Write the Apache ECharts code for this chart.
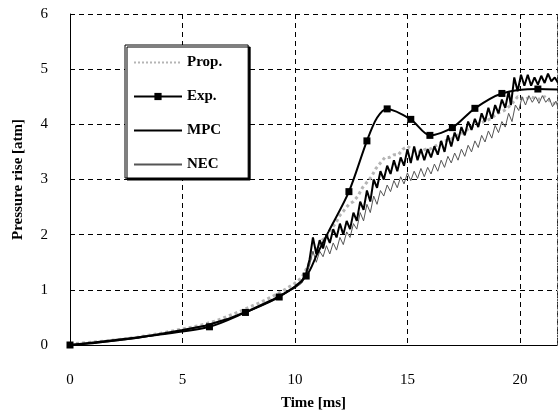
<!DOCTYPE html>
<html>
<head>
<meta charset="utf-8">
<script src="https://cdn.jsdelivr.net/npm/echarts@6/dist/echarts.min.js"></script>
<style>html,body{margin:0;padding:0;background:#fff}#c{width:560px;height:420px}</style>
</head>
<body>
<div id="c"></div>
<script>
var xTicks = [0, 5, 10, 15, 20];
var yTicks = [0, 1, 2, 3, 4, 5, 6];

var expMarked = [[0,0],[6.2,0.33],[7.8,0.59],[9.3,0.87],[10.5,1.25],[12.4,2.78],[13.2,3.70],[14.1,4.28],[15.15,4.09],[16.0,3.80],[17.0,3.94],[18.0,4.29],[19.2,4.56],[20.8,4.64]];
var expPlain = [[2,0.09],[4,0.19],[11.0,1.66],[11.5,2.06],[13.65,4.12],[21.7,4.63]];

var propData = [[0,0.02],[1,0.05],[2,0.09],[3,0.14],[4,0.21],[5,0.29],[5.5,0.33],[6,0.38],[6.5,0.44],[7,0.52],[7.5,0.6],[8,0.69],[8.5,0.78],[9,0.88],[9.5,0.99],[10,1.12],[10.3,1.22],[10.6,1.45],[10.8,1.7],[11,1.75],[11.2,1.9],[11.4,1.95],[11.6,2.1],[11.8,2.2],[12,2.35],[12.2,2.45],[12.4,2.55],[12.6,2.6],[12.8,2.7],[13,2.85],[13.2,2.95],[13.4,3.05],[13.6,3.2],[13.8,3.3],[14,3.4],[14.2,3.4],[14.4,3.45],[14.6,3.45],[14.8,3.55],[15,3.6],[15.2,3.55],[15.4,3.5],[15.6,3.5],[15.8,3.55],[16,3.55],[16.3,3.62],[16.6,3.7],[16.9,3.72],[17.2,3.8],[17.5,3.85],[17.8,3.95],[18.1,4.0],[18.4,4.05],[18.7,4.1],[19,4.2],[19.3,4.25],[19.6,4.35],[19.9,4.5],[20.2,4.45],[20.5,4.5],[20.8,4.45],[21.1,4.5],[21.4,4.4],[21.7,4.35]];

var mpcData = [[0,0],[1,0.03],[2,0.08],[3,0.13],[4,0.2],[5,0.27],[6,0.35],[7,0.47],[8,0.63],[9,0.82],[9.5,0.93],[10,1.05],[10.3,1.15],[10.5,1.3],[10.65,1.55],[10.8,1.95],[10.95,1.65],[11.1,1.9],[11.25,1.75],[11.4,2.0],[11.55,1.85],[11.7,2.1],[11.85,1.95],[12.0,2.2],[12.15,2.0],[12.3,2.25],[12.45,2.1],[12.6,2.4],[12.75,2.25],[12.9,2.6],[13.05,2.45],[13.2,2.8],[13.35,2.6],[13.5,3.0],[13.65,2.85],[13.8,3.15],[13.95,3.0],[14.1,3.25],[14.25,3.1],[14.4,3.35],[14.55,3.15],[14.7,3.4],[14.85,3.25],[15.0,3.55],[15.15,3.3],[15.3,3.6],[15.45,3.35],[15.6,3.55],[15.75,3.35],[15.9,3.55],[16.05,3.4],[16.2,3.6],[16.35,3.45],[16.5,3.7],[16.65,3.5],[16.8,3.8],[16.95,3.6],[17.1,3.85],[17.25,3.7],[17.4,3.95],[17.55,3.8],[17.7,4.05],[17.85,3.9],[18.0,4.1],[18.15,3.95],[18.3,4.2],[18.45,4.05],[18.6,4.3],[18.75,4.1],[18.9,4.35],[19.05,4.2],[19.2,4.45],[19.35,4.3],[19.5,4.6],[19.6,4.35],[19.75,4.85],[19.9,4.6],[20.05,4.9],[20.2,4.7],[20.35,4.9],[20.5,4.7],[20.65,4.85],[20.8,4.72],[20.95,4.88],[21.1,4.75],[21.25,4.92],[21.4,4.78],[21.55,4.85],[21.7,4.75]];

var necData = [[0,0],[1,0.03],[2,0.07],[3,0.12],[4,0.19],[5,0.26],[6,0.34],[7,0.46],[8,0.62],[9,0.8],[9.5,0.92],[10,1.03],[10.3,1.12],[10.5,1.25],[10.65,1.45],[10.8,1.7],[10.95,1.5],[11.1,1.7],[11.25,1.6],[11.4,1.8],[11.55,1.65],[11.7,1.85],[11.85,1.72],[12.0,1.95],[12.15,1.82],[12.3,2.05],[12.45,1.95],[12.6,2.2],[12.75,2.1],[12.9,2.4],[13.05,2.25],[13.2,2.55],[13.35,2.4],[13.5,2.7],[13.65,2.55],[13.8,2.8],[13.95,2.7],[14.1,2.9],[14.25,2.78],[14.4,2.98],[14.55,2.85],[14.7,3.05],[14.85,2.92],[15.0,3.12],[15.15,2.98],[15.3,3.15],[15.45,3.02],[15.6,3.2],[15.75,3.05],[15.9,3.22],[16.05,3.1],[16.2,3.28],[16.35,3.15],[16.5,3.35],[16.65,3.22],[16.8,3.42],[16.95,3.3],[17.1,3.48],[17.25,3.35],[17.4,3.55],[17.55,3.42],[17.7,3.62],[17.85,3.5],[18.0,3.7],[18.15,3.58],[18.3,3.8],[18.45,3.68],[18.6,3.88],[18.75,3.75],[18.9,3.98],[19.05,3.85],[19.2,4.05],[19.35,3.95],[19.5,4.2],[19.65,4.05],[19.8,4.35],[19.95,4.25],[20.1,4.5],[20.25,4.35],[20.4,4.52],[20.55,4.4],[20.7,4.5],[20.85,4.38],[21.0,4.52],[21.15,4.4],[21.3,4.48],[21.45,4.32],[21.6,4.42],[21.7,4.3]];

var seriesNames = ['Prop.', 'Exp.', 'MPC', 'NEC'];

function buildExp() {
  var all = expMarked.map(function (p) { return {value: p}; })
    .concat(expPlain.map(function (p) { return {value: p, symbol: 'none'}; }));
  all.sort(function (a, b) { return a.value[0] - b.value[0]; });
  return all;
}

var font = 'Liberation Serif';
var noDot = {color: 'transparent', borderWidth: 0};
var chart = echarts.init(document.getElementById('c'), null, {renderer: 'canvas'});
chart.setOption({
  animation: false,
  backgroundColor: '#fff',
  grid: {left: 70, right: 2, top: 14, bottom: 75, show: false},
  legend: {
    orient: 'vertical',
    left: 125, top: 45,
    padding: [10, 26, 6, 8],
    itemGap: 19,
    itemWidth: 48, itemHeight: 9,
    backgroundColor: '#fff',
    borderColor: '#000', borderWidth: 1,
    shadowColor: '#000', shadowBlur: 0, shadowOffsetX: 2, shadowOffsetY: 2,
    textStyle: {fontFamily: font, fontWeight: 'bold', fontSize: 15, color: '#000', lineHeight: 15},
    data: seriesNames
  },
  xAxis: {
    type: 'value', min: 0, max: 21.65, interval: 5,
    name: 'Time [ms]', nameLocation: 'middle', nameGap: 51,
    nameTextStyle: {fontFamily: font, fontWeight: 'bold', fontSize: 15, color: '#000'},
    axisLine: {show: true, lineStyle: {color: '#000', width: 1}},
    axisTick: {show: false},
    axisLabel: {margin: 28, fontFamily: font, fontSize: 15, color: '#000',
      formatter: function (v) { return xTicks.indexOf(v) >= 0 ? String(v) : ''; }},
    splitLine: {show: true, lineStyle: {color: '#000', type: [5, 4], width: 1}}
  },
  yAxis: [{
    type: 'value', min: 0, max: 6, interval: 1,
    name: 'Pressure rise [atm]', nameLocation: 'middle', nameGap: 44,
    nameTextStyle: {fontFamily: font, fontWeight: 'bold', fontSize: 15, color: '#000'},
    axisLine: {show: true, lineStyle: {color: '#000', width: 1}},
    axisTick: {show: false},
    axisLabel: {margin: 22, fontFamily: font, fontSize: 15, color: '#000',
      formatter: function (v) { return yTicks.indexOf(v) >= 0 ? String(v) : ''; }},
    splitLine: {show: true, lineStyle: {color: '#000', type: [5, 4], width: 1}}
  }, {
    type: 'value', min: 0, max: 6, interval: 1, position: 'right',
    axisLine: {show: true, lineStyle: {color: '#555', width: 1, type: [2, 2]}},
    axisTick: {show: false}, axisLabel: {show: false}, splitLine: {show: false}
  }],
  series: [
    {name: 'Prop.', type: 'line', data: propData, symbol: 'none',
      lineStyle: {color: '#b5b5b5', width: 3, type: 'dotted'}, itemStyle: noDot, z: 2},
    {name: 'NEC', type: 'line', data: necData, symbol: 'none',
      lineStyle: {color: '#555', width: 1}, itemStyle: noDot, z: 3},
    {name: 'MPC', type: 'line', data: mpcData, symbol: 'none',
      lineStyle: {color: '#000', width: 2}, itemStyle: noDot, z: 4},
    {name: 'Exp.', type: 'line', data: buildExp(), symbol: 'rect', symbolSize: 7,
      smooth: 0.3,
      lineStyle: {color: '#000', width: 2}, itemStyle: {color: '#000'}, z: 5}
  ]
});
</script>
</body>
</html>
